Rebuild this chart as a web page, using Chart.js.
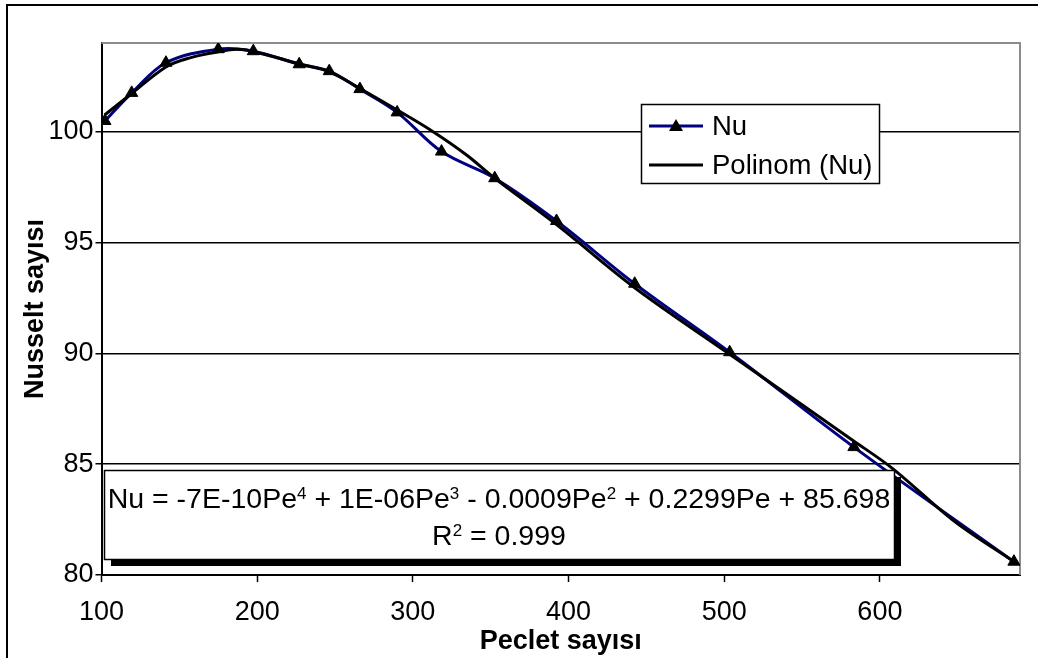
<!DOCTYPE html>
<html><head><meta charset="utf-8">
<script src="https://cdn.jsdelivr.net/npm/chart.js@4.4.1/dist/chart.umd.min.js"></script>
<style>html,body{margin:0;padding:0;background:#fff;}#wrap{width:1038px;height:658px;}</style>
</head><body><div id="wrap"><canvas id="c" width="1038" height="658"></canvas></div>
<script>
// ---- data ----
const peValues = [102.2, 119.4, 141.4, 175.0, 197.5, 227.0, 246.3, 266.0, 289.9, 318.4, 352.6, 392.3, 442.5, 503.5, 583.3, 686.1];
const nuValues = [100.48, 101.75, 103.11, 103.72, 103.63, 103.04, 102.73, 101.92, 100.87, 99.10, 97.90, 95.97, 93.14, 90.05, 85.77, 80.60];
const trendPe  = [102.0, 119.4, 141.4, 156.8, 175.0, 186.8, 197.5, 227.0, 246.3, 266.0, 289.9, 313.0, 334.5, 352.6, 392.3, 442.5, 503.5, 582.7, 608.4, 647.0, 686.1];
const trendNu  = [100.75, 101.72, 102.92, 103.33, 103.60, 103.72, 103.62, 103.06, 102.70, 101.95, 100.98, 100.00, 98.95, 97.90, 95.81, 92.96, 89.96, 86.07, 84.79, 82.47, 80.60];
const xTickValues = [100, 200, 300, 400, 500, 600];
const yTickValues = [80, 85, 90, 95, 100];
const xMin = 100, xMax = 690, yMin = 80, yMax = 104;
const seriesLabel = 'Nu';
const trendLabel = 'Polinom (Nu)';
const xTitle = 'Peclet sayısı';
const yTitle = 'Nusselt sayısı';
const equationParts = [['Nu = -7E-10Pe', 0], ['4', 1], [' + 1E-06Pe', 0], ['3', 1], [' - 0.0009Pe', 0], ['2', 1], [' + 0.2299Pe + 85.698', 0]];
const r2Parts = [['R', 0], ['2', 1], [' = 0.999', 0]];

const FONT = "'Liberation Sans', Arial, Helvetica, sans-serif";
const FS = 27;

const framePlugin = {
  id: 'frame',
  beforeDraw(chart) {
    const c = chart.ctx;
    c.save();
    c.fillStyle = '#fff';
    c.fillRect(0, 0, chart.width, chart.height);
    c.strokeStyle = '#000';
    c.lineWidth = 2;
    c.beginPath();
    c.moveTo(7, chart.height);
    c.lineTo(7, 5);
    c.lineTo(chart.width, 5);
    c.stroke();
    c.restore();
  },
  beforeDatasetsDraw(chart) {
    const a = chart.chartArea, c = chart.ctx;
    c.save();
    c.strokeStyle = '#8c8c8c';
    c.lineWidth = 2;
    c.beginPath();
    c.moveTo(a.left, a.top);
    c.lineTo(a.right, a.top);
    c.lineTo(a.right, a.bottom);
    c.stroke();
    c.restore();
  }
};

function drawRich(c, parts, cx, baseline) {
  const big = '28.5px ' + FONT, small = '17px ' + FONT;
  let w = 0;
  parts.forEach(p => { c.font = p[1] ? small : big; w += c.measureText(p[0]).width; });
  let x = cx - w / 2;
  c.textAlign = 'left';
  c.textBaseline = 'alphabetic';
  parts.forEach(p => {
    c.font = p[1] ? small : big;
    c.fillText(p[0], x, p[1] ? baseline - 9 : baseline);
    x += c.measureText(p[0]).width;
  });
}

const overlayPlugin = {
  id: 'overlay',
  afterDatasetsDraw(chart) {
    const c = chart.ctx;
    c.save();
    // equation box with shadow
    const bx = 104, by = 470, bw = 790, bh = 89;
    c.fillStyle = '#000';
    c.fillRect(bx + 7, by + 7, bw, bh);
    c.fillStyle = '#fff';
    c.fillRect(bx, by, bw, bh);
    c.strokeStyle = '#000';
    c.lineWidth = 1.5;
    c.strokeRect(bx + 0.5, by + 0.5, bw, bh);
    c.fillStyle = '#000';
    drawRich(c, equationParts, bx + bw / 2, 508);
    drawRich(c, r2Parts, bx + bw / 2, 545);

    // legend
    const lx = 641, ly = 104, lw = 238, lh = 79;
    c.fillStyle = '#fff';
    c.fillRect(lx, ly, lw, lh);
    c.strokeStyle = '#000';
    c.lineWidth = 1.5;
    c.strokeRect(lx + 0.5, ly + 0.5, lw, lh);
    const ds = chart.data.datasets;
    const nu = ds.find(d => d.label === seriesLabel);
    const tr = ds.find(d => d.label === trendLabel);
    c.lineWidth = 3;
    c.strokeStyle = nu.borderColor;
    c.beginPath(); c.moveTo(649, 126); c.lineTo(703, 126); c.stroke();
    c.fillStyle = '#000';
    c.beginPath(); c.moveTo(676, 119); c.lineTo(683, 131); c.lineTo(669, 131); c.closePath(); c.fill();
    c.strokeStyle = tr.borderColor;
    c.beginPath(); c.moveTo(649, 165); c.lineTo(703, 165); c.stroke();
    c.font = '27.5px ' + FONT;
    c.textAlign = 'left';
    c.textBaseline = 'middle';
    c.fillText(nu.label, 712, 127);
    c.fillText(tr.label, 712, 166);
    c.restore();
  }
};

new Chart(document.getElementById('c'), {
  type: 'line',
  data: {
    datasets: [
      {
        label: trendLabel,
        data: trendPe.map((x, i) => ({ x, y: trendNu[i] })),
        borderColor: '#000000', borderWidth: 3, pointRadius: 0, tension: 0.35, fill: false, order: 0
      },
      {
        label: seriesLabel,
        data: peValues.map((x, i) => ({ x, y: nuValues[i] })),
        borderColor: '#000080', borderWidth: 3, tension: 0.35, fill: false, order: 1,
        pointStyle: 'triangle', pointRadius: 7, pointBackgroundColor: '#000', pointBorderColor: '#000', pointBorderWidth: 1
      }
    ]
  },
  options: {
    responsive: false, animation: false, devicePixelRatio: 1,
    layout: { padding: { left: 0, right: 18, top: 43, bottom: 0 } },
    plugins: { legend: { display: false }, tooltip: { enabled: false } },
    scales: {
      x: {
        type: 'linear', min: xMin, max: xMax,
        afterBuildTicks: s => { s.ticks = xTickValues.map(v => ({ value: v })); },
        afterFit: s => { s.height = 83; },
        grid: { drawOnChartArea: false, drawTicks: true, tickLength: 7, tickColor: '#000', tickWidth: 1.5 },
        border: { display: true, color: '#000', width: 2 },
        ticks: { color: '#000', font: { family: FONT, size: FS }, padding: 14, maxRotation: 0, autoSkip: false },
        title: { display: true, text: xTitle, color: '#000', font: { family: FONT, size: FS, weight: 'bold' }, padding: { top: 0, bottom: 0 } }
      },
      y: {
        type: 'linear', min: yMin, max: yMax,
        afterBuildTicks: s => { s.ticks = yTickValues.map(v => ({ value: v })); },
        afterFit: s => { s.width = 101.5; },
        grid: { color: '#000', lineWidth: 1.5, drawTicks: true, tickLength: 6, tickColor: '#000', tickWidth: 1.5 },
        border: { display: true, color: '#000', width: 2 },
        ticks: { color: '#000', font: { family: FONT, size: FS }, padding: 2, autoSkip: false },
        title: { display: true, text: yTitle, color: '#000', font: { family: FONT, size: FS, weight: 'bold' }, padding: { top: 19, bottom: 0 } }
      }
    }
  },
  plugins: [framePlugin, overlayPlugin]
});
</script>
</body></html>
